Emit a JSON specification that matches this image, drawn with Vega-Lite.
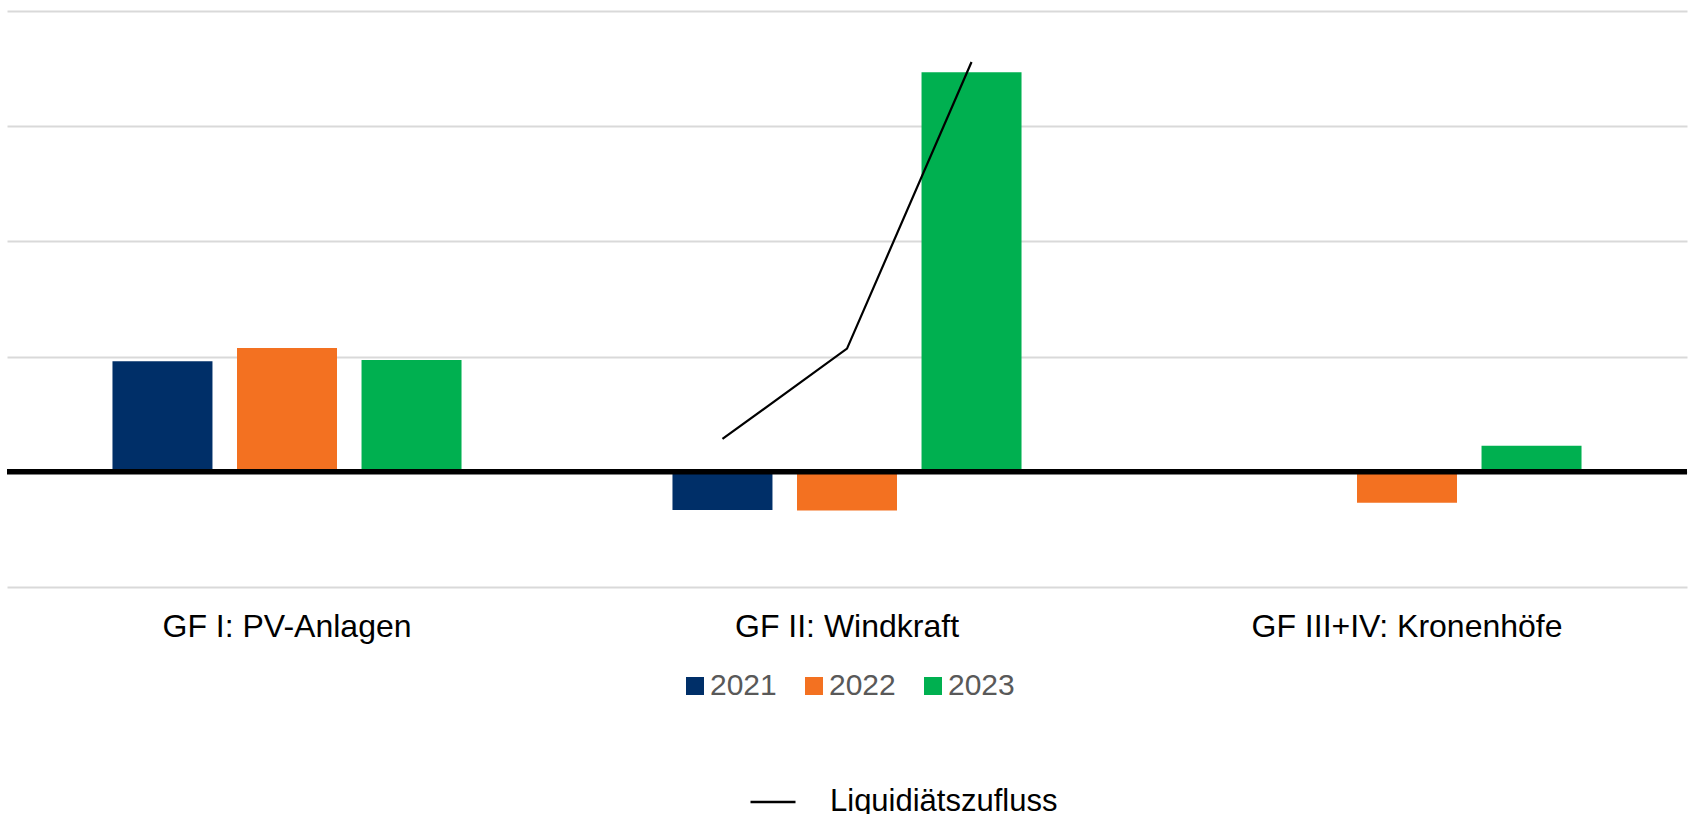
{
  "$schema": "https://vega.github.io/schema/vega-lite/v6.json",
  "width": 1680,
  "height": 576,
  "autosize": {"type": "none"},
  "padding": {"left": 7, "top": 11, "right": 7, "bottom": 227},
  "background": "#ffffff",
  "config": {
    "view": {"stroke": null},
    "font": "Liberation Sans"
  },
  "datasets": {
    "bars": [
      {"segment": "GF I: PV-Anlagen", "year": "2021", "value": 96},
      {"segment": "GF I: PV-Anlagen", "year": "2022", "value": 107.5},
      {"segment": "GF I: PV-Anlagen", "year": "2023", "value": 97},
      {"segment": "GF II: Windkraft", "year": "2021", "value": -33.2},
      {"segment": "GF II: Windkraft", "year": "2022", "value": -33.7},
      {"segment": "GF II: Windkraft", "year": "2023", "value": 346.8},
      {"segment": "GF III+IV: Kronenhöfe", "year": "2021", "value": 0},
      {"segment": "GF III+IV: Kronenhöfe", "year": "2022", "value": -26.8},
      {"segment": "GF III+IV: Kronenhöfe", "year": "2023", "value": 22.7}
    ],
    "liquidity": [
      {"segment": "GF II: Windkraft", "year": "2021", "series": "Liquidiätszufluss", "value": 28.5},
      {"segment": "GF II: Windkraft", "year": "2022", "series": "Liquidiätszufluss", "value": 106.9},
      {"segment": "GF II: Windkraft", "year": "2023", "series": "Liquidiätszufluss", "value": 355.7}
    ]
  },
  "layer": [
    {
      "data": {"name": "bars"},
      "mark": {"type": "bar", "cornerRadius": 0},
      "encoding": {
        "x": {
          "field": "segment",
          "type": "nominal",
          "sort": null,
          "scale": {"paddingInner": 0, "paddingOuter": 0},
          "axis": {
            "title": null,
            "orient": "bottom",
            "labelAngle": 0,
            "ticks": false,
            "tickSize": 0,
            "domain": false,
            "grid": false,
            "labelFontSize": 32,
            "labelColor": "#000000",
            "labelFont": "Liberation Sans",
            "labelPadding": 24,
            "labelLimit": 0
          }
        },
        "xOffset": {
          "field": "year",
          "type": "nominal",
          "scale": {"paddingInner": 0.197, "paddingOuter": 0.847}
        },
        "y": {
          "field": "value",
          "type": "quantitative",
          "scale": {"domain": [-100, 400], "nice": false, "zero": true},
          "axis": {
            "title": null,
            "labels": false,
            "ticks": false,
            "domain": false,
            "grid": true,
            "gridColor": "#d9d9d9",
            "gridWidth": 2,
            "values": [-100, 0, 100, 200, 300, 400]
          }
        },
        "color": {
          "field": "year",
          "type": "nominal",
          "scale": {"domain": ["2021", "2022", "2023"], "range": ["#002F68", "#F37121", "#00B050"]},
          "legend": {
            "title": null,
            "orient": "none",
            "direction": "horizontal",
            "legendX": 673,
            "legendY": 660,
            "symbolType": "square",
            "symbolSize": 324,
            "symbolStrokeWidth": 0,
            "labelFontSize": 30,
            "labelColor": "#595959",
            "labelFont": "Liberation Sans",
            "labelOffset": 0,
            "labelLimit": 0,
            "columnPadding": 22,
            "padding": 0
          }
        }
      }
    },
    {
      "data": {"values": [{"zero": 0}]},
      "mark": {"type": "rule", "color": "#000000", "strokeWidth": 5.5},
      "encoding": {
        "y": {"field": "zero", "type": "quantitative"}
      }
    },
    {
      "data": {"name": "liquidity"},
      "mark": {"type": "line", "strokeWidth": 2.2},
      "encoding": {
        "x": {"field": "segment", "type": "nominal", "sort": null},
        "xOffset": {"field": "year", "type": "nominal"},
        "y": {"field": "value", "type": "quantitative"},
        "order": {"field": "year", "type": "ordinal"},
        "stroke": {
          "field": "series",
          "type": "nominal",
          "scale": {"range": ["#000000"]},
          "legend": {
            "title": null,
            "orient": "none",
            "legendX": 742,
            "legendY": 767,
            "symbolType": "stroke",
            "symbolSize": 2025,
            "symbolStrokeWidth": 2.5,
            "labelFontSize": 31,
            "labelColor": "#000000",
            "labelFont": "Liberation Sans",
            "labelOffset": 33,
            "labelLimit": 0,
            "padding": 0
          }
        }
      }
    }
  ]
}
